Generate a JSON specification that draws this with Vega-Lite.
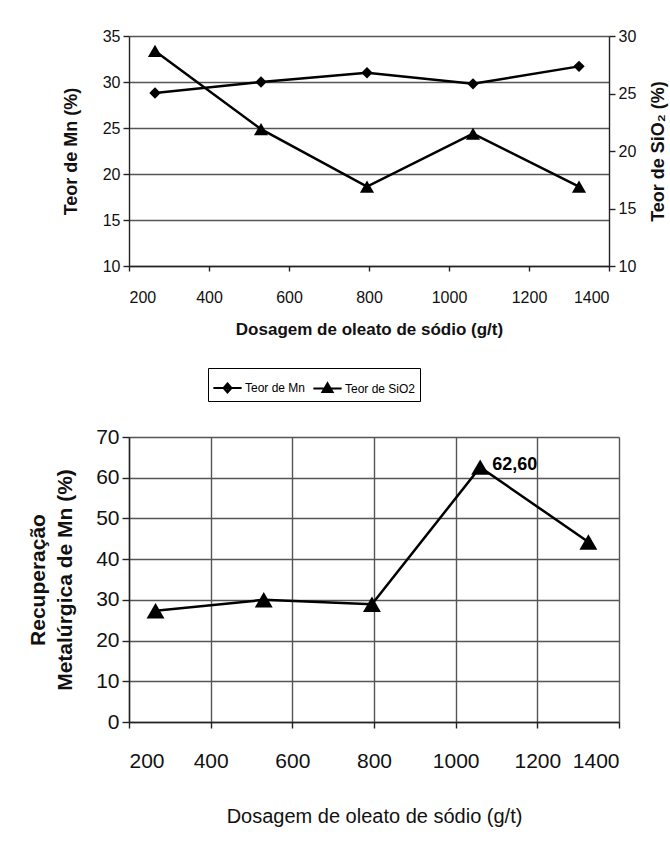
{
  "$schema": "https://vega.github.io/schema/vega-lite/v6.json",
  "background": "white",
  "padding": {"left": 27, "top": 28, "right": 5, "bottom": 5},
  "spacing": 89,
  "config": {
    "font": "Liberation Sans",
    "view": {"stroke": null},
    "axis": {
      "labelFont": "Liberation Sans",
      "titleFont": "Liberation Sans",
      "labelColor": "#111",
      "titleColor": "#111",
      "domainColor": "#222",
      "tickColor": "#222",
      "gridColor": "#555",
      "gridWidth": 1.4,
      "domainWidth": 1.4,
      "tickWidth": 1.4,
      "gridOpacity": 1
    }
  },
  "datasets": {
    "teor": [
      {"dose": 265, "serie": "Teor de Mn", "teor": 28.8},
      {"dose": 530, "serie": "Teor de Mn", "teor": 30.0},
      {"dose": 795, "serie": "Teor de Mn", "teor": 31.0},
      {"dose": 1060, "serie": "Teor de Mn", "teor": 29.8},
      {"dose": 1325, "serie": "Teor de Mn", "teor": 31.7},
      {"dose": 265, "serie": "Teor de SiO2", "teor": 28.7},
      {"dose": 530, "serie": "Teor de SiO2", "teor": 21.9},
      {"dose": 795, "serie": "Teor de SiO2", "teor": 16.9},
      {"dose": 1060, "serie": "Teor de SiO2", "teor": 21.5},
      {"dose": 1325, "serie": "Teor de SiO2", "teor": 16.9}
    ],
    "rec": [
      {"dose": 265, "rec": 27.3},
      {"dose": 530, "rec": 30.0},
      {"dose": 795, "rec": 28.9},
      {"dose": 1060, "rec": 62.6, "rotulo": "62,60"},
      {"dose": 1325, "rec": 44.2}
    ]
  },
  "vconcat": [
    {
      "width": 480,
      "height": 230,
      "data": {"name": "teor"},
      "encoding": {
        "x": {
          "field": "dose",
          "type": "quantitative",
          "scale": {"domain": [200, 1400], "nice": false, "zero": false},
          "axis": {
            "values": [200, 400, 600, 800, 1000, 1200, 1400],
            "format": "d",
            "grid": false,
            "title": "Dosagem de oleato de sódio (g/t)",
            "titleFontSize": 17,
            "titleFontWeight": "bold",
            "titlePadding": 16,
            "labelFontSize": 16,
            "labelPadding": 18,
            "tickSize": 5
          }
        }
      },
      "layer": [
        {
          "transform": [{"filter": "datum.serie == 'Teor de Mn'"}],
          "encoding": {
            "y": {
              "field": "teor",
              "type": "quantitative",
              "scale": {"domain": [10, 35], "nice": false, "zero": false},
              "axis": {
                "values": [10, 15, 20, 25, 30, 35],
                "grid": true,
                "title": "Teor de Mn (%)",
                "titleFontSize": 18,
                "titleFontWeight": "bold",
                "titlePadding": 22,
                "labelFontSize": 16,
                "labelPadding": 3,
                "tickSize": 6
              }
            }
          },
          "layer": [
            {"mark": {"type": "line", "color": "black", "strokeWidth": 2.5}},
            {"mark": {"type": "point", "shape": "diamond", "filled": true, "color": "black", "opacity": 1, "size": 130}},
            {
              "transform": [{"filter": "datum.dose < 0"}],
              "mark": {"type": "point", "filled": false, "color": "black", "strokeWidth": 2, "opacity": 1},
              "encoding": {
                "shape": {
                  "field": "serie",
                  "type": "nominal",
                  "scale": {
                    "domain": ["Teor de Mn", "Teor de SiO2"],
                    "range": [
                      "M-1,0H1M0,-0.32L0.28,0L0,0.32L-0.28,0ZM0,-0.22V0.22M-0.16,0H0.16",
                      "M-1,0H1M0,-0.38L0.36,0.24L-0.36,0.24ZM0,-0.26V0.24M-0.22,0.12H0.22M-0.12,-0.06H0.12"
                    ]
                  },
                  "legend": {
                    "title": null,
                    "orient": "none",
                    "legendX": 79,
                    "legendY": 332,
                    "direction": "horizontal",
                    "strokeColor": "black",
                    "fillColor": "white",
                    "padding": 4,
                    "labelFont": "Liberation Sans",
                    "labelFontSize": 12,
                    "labelColor": "black",
                    "labelOffset": 2,
                    "columnPadding": 3,
                    "symbolSize": 800,
                    "symbolStrokeWidth": 2
                  }
                }
              }
            }
          ]
        },
        {
          "transform": [{"filter": "datum.serie == 'Teor de SiO2'"}],
          "encoding": {
            "y": {
              "field": "teor",
              "type": "quantitative",
              "scale": {"domain": [10, 30], "nice": false, "zero": false},
              "axis": {
                "orient": "right",
                "values": [10, 15, 20, 25, 30],
                "grid": false,
                "title": "Teor de SiO₂ (%)",
                "titleAngle": 270,
                "titleBaseline": "top",
                "titleFontSize": 18,
                "titleFontWeight": "bold",
                "titlePadding": 14,
                "labelFontSize": 16,
                "labelPadding": 3,
                "tickSize": 6
              }
            }
          },
          "layer": [
            {"mark": {"type": "line", "color": "black", "strokeWidth": 2.5}},
            {"mark": {"type": "point", "shape": "triangle-up", "filled": true, "color": "black", "opacity": 1, "size": 200}}
          ]
        }
      ],
      "resolve": {"scale": {"y": "independent"}}
    },
    {
      "width": 490,
      "height": 285,
      "data": {"name": "rec"},
      "encoding": {
        "x": {
          "field": "dose",
          "type": "quantitative",
          "scale": {"domain": [200, 1400], "nice": false, "zero": false},
          "axis": {
            "values": [200, 400, 600, 800, 1000, 1200, 1400],
            "format": "d",
            "grid": true,
            "title": "Dosagem de oleato de sódio (g/t)",
            "titleFontSize": 20,
            "titleFontWeight": "normal",
            "titlePadding": 35,
            "labelFontSize": 21,
            "labelPadding": 22,
            "tickSize": 6
          }
        },
        "y": {
          "field": "rec",
          "type": "quantitative",
          "scale": {"domain": [0, 70], "nice": false, "zero": false},
          "axis": {
            "values": [0, 10, 20, 30, 40, 50, 60, 70],
            "grid": true,
            "title": ["Recuperação", "Metalúrgica de Mn (%)"],
            "titleFontSize": 21,
            "titleFontWeight": "bold",
            "titleLineHeight": 27,
            "titlePadding": 20,
            "labelFontSize": 21,
            "labelPadding": 3,
            "tickSize": 7
          }
        }
      },
      "layer": [
        {"mark": {"type": "line", "color": "black", "strokeWidth": 2.5}},
        {"mark": {"type": "point", "shape": "triangle-up", "filled": true, "color": "black", "opacity": 1, "size": 320}},
        {
          "transform": [{"filter": "isValid(datum.rotulo)"}],
          "mark": {"type": "text", "align": "left", "baseline": "middle", "dx": 12, "dy": -2, "font": "Liberation Sans", "fontSize": 18, "fontWeight": "bold", "color": "black"},
          "encoding": {"text": {"field": "rotulo"}}
        }
      ]
    }
  ]
}
